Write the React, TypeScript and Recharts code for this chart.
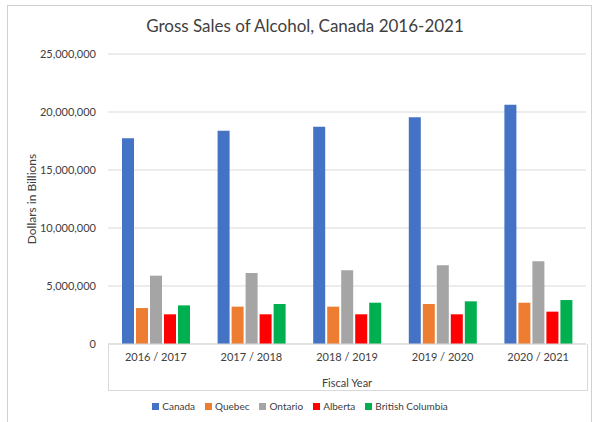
import React from "react";
import {
  BarChart,
  Bar,
  XAxis,
  YAxis,
  CartesianGrid,
} from "recharts";

const years = ["2016 / 2017", "2017 / 2018", "2018 / 2019", "2019 / 2020", "2020 / 2021"];
const canada = [17730000, 18390000, 18730000, 19540000, 20630000];
const quebec = [3100000, 3220000, 3220000, 3450000, 3560000];
const ontario = [5890000, 6120000, 6350000, 6780000, 7130000];
const alberta = [2560000, 2560000, 2560000, 2560000, 2790000];
const bc = [3330000, 3450000, 3560000, 3680000, 3790000];
const yTicks = [0, 5000000, 10000000, 15000000, 20000000, 25000000];

const series = [
  { key: "Canada", color: "#4472C4" },
  { key: "Quebec", color: "#ED7D31" },
  { key: "Ontario", color: "#A5A5A5" },
  { key: "Alberta", color: "#FF0000" },
  { key: "British Columbia", color: "#00B050" },
];

const data = years.map((y, i) => ({
  year: y,
  Canada: canada[i],
  Quebec: quebec[i],
  Ontario: ontario[i],
  Alberta: alberta[i],
  "British Columbia": bc[i],
}));

const font = "Lato, 'Open Sans', sans-serif";
const textColor = "#404040";

export default function App() {
  return (
    <div style={{ position: "absolute", left: 0, top: 0, width: 596, height: 422, overflow: "hidden", background: "#fff", fontFamily: font }}>
      <div style={{ position: "absolute", left: 7, top: 5, width: 583, height: 430, border: "1px solid #d0d0d0" }} />
      <div style={{ position: "absolute", left: 0, top: 15, width: 610, textAlign: "center", fontSize: 17, color: textColor }}>
        Gross Sales of Alcohol, Canada 2016-2021
      </div>
      <div style={{ position: "absolute", left: 108, top: 344, width: 478, height: 46, borderLeft: "1px solid #d9d9d9", borderRight: "1px solid #d9d9d9", borderBottom: "1px solid #d9d9d9" }} />
      <div style={{ position: "absolute", left: 0, top: 0 }}>
        <BarChart
          width={596}
          height={422}
          data={data}
          margin={{ top: 54, right: 10, left: 8, bottom: 32 }}
          barSize={12}
          barGap={2}
        >
          <CartesianGrid vertical={false} stroke="#d9d9d9" />
          <XAxis
            dataKey="year"
            height={46}
            tickLine={false}
            tickSize={0}
            tickMargin={9}
            axisLine={{ stroke: "#d9d9d9" }}
            tick={{ fontSize: 11, fill: textColor, fontFamily: font }}
            label={{ value: "Fiscal Year", position: "insideBottom", offset: 3, fontSize: 11, fill: textColor, fontFamily: font }}
          />
          <YAxis
            width={100}
            domain={[0, 25000000]}
            ticks={yTicks}
            tickLine={false}
            axisLine={false}
            tickSize={0}
            tickMargin={12}
            tickFormatter={(v: number) => v.toLocaleString("en-US")}
            tick={{ fontSize: 11, fill: textColor, fontFamily: font }}
            label={{ value: "Dollars in Billions", angle: -90, position: "insideLeft", offset: 24, fontSize: 12, fill: textColor, fontFamily: font, style: { textAnchor: "middle" } }}
          />
          {series.map((s) => (
            <Bar key={s.key} dataKey={s.key} fill={s.color} isAnimationActive={false} />
          ))}
        </BarChart>
      </div>
      <div style={{ position: "absolute", left: 0, top: 400, width: 610, display: "flex", justifyContent: "center", fontSize: 10, color: textColor }}>
        {series.map((s) => (
          <div key={s.key} style={{ display: "flex", alignItems: "center", marginRight: 10 }}>
            <span style={{ display: "inline-block", width: 7, height: 7, background: s.color, marginRight: 3 }} />
            {s.key}
          </div>
        ))}
      </div>
    </div>
  );
}
